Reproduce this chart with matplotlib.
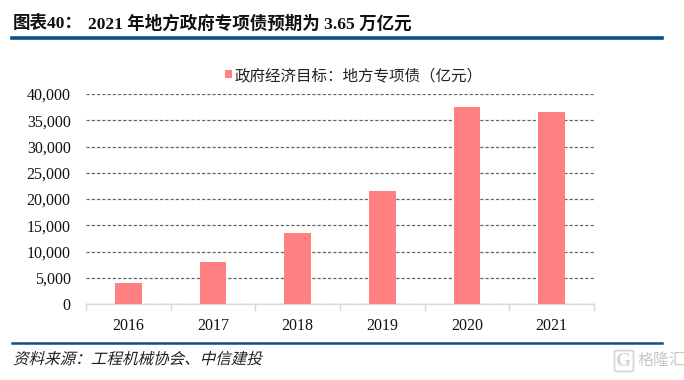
import matplotlib
matplotlib.use('Agg')
import matplotlib.pyplot as plt
import matplotlib.patheffects as pe
from matplotlib.transforms import Affine2D

plt.rcParams['font.family'] = ['Liberation Serif', 'Noto Sans CJK SC']

years = ['2016', '2017', '2018', '2019', '2020', '2021']
bond_values = [4000, 8000, 13500, 21500, 37500, 36500]
y_ticks = [0, 5000, 10000, 15000, 20000, 25000, 30000, 35000, 40000]


# the CJK fonts have no italic, so slant the source line by hand
class Slant(pe.AbstractPathEffect):
    def draw_path(self, renderer, gc, tpath, affine, rgbFace=None):
        renderer.draw_path(gc, tpath, Affine2D().skew_deg(14, 0) + affine, rgbFace)


W, H = 684, 380
fig = plt.figure(figsize=(W/100, H/100), dpi=100)

# axes placed in pixels
left, right, top, bottom = 86, 594, 94, 304
ax = fig.add_axes([left/W, 1-bottom/H, (right-left)/W, (bottom-top)/H])

ax.bar(range(6), bond_values, width=0.315, color='#ff8080', zorder=3,
       label='政府经济目标\uff1a地方专项债\uff08亿元\uff09')
ax.set_xlim(-0.5, 5.5)
ax.set_ylim(0, 40000)
ax.set_yticks(y_ticks)
ax.set_yticklabels([f'{v:,}' for v in y_ticks], fontsize=11.5, color='#111111')
ax.yaxis.grid(True, ls=(0, (2.6, 1.6)), color='#666666', lw=0.9, zorder=1)
ax.set_axisbelow(True)
ax.tick_params(axis='y', length=0, pad=11)

ax.set_xticks([i-0.5 for i in range(7)])
ax.set_xticklabels([])
ax.set_xticks(range(6), minor=True)
ax.set_xticklabels(years, minor=True, fontsize=11.5, color='#111111')
ax.tick_params(axis='x', which='major', length=5, color='#d9d9d9', width=1)
ax.tick_params(axis='x', which='minor', length=0, pad=10)

for s in ['top', 'right', 'left']:
    ax.spines[s].set_visible(False)
ax.spines['bottom'].set_color('#d9d9d9')
ax.spines['bottom'].set_linewidth(1)

ax.legend(loc='center', bbox_to_anchor=(354/W, 1-76/H), bbox_transform=fig.transFigure,
          frameon=False, fontsize=11.2, handlelength=0.42, handleheight=0.42,
          handletextpad=0.2, borderpad=0, labelcolor='#222222')

# header and footer
fig.text(13/W, 1-24/H, '图表40\uff1a', fontsize=12.6, fontweight='bold', va='center', color='#111111')
fig.text(88/W, 1-24/H, '2021 年地方政府专项债预期为 3.65 万亿元', fontsize=12.6, fontweight='bold',
         va='center', color='#111111')
fig.add_artist(plt.Line2D([12/W, 662/W], [1-38/H, 1-38/H], color='#0b5088', lw=2.6))
fig.add_artist(plt.Line2D([12/W, 662/W], [1-343/H, 1-343/H], color='#0b5088', lw=1.8))
fig.text(13/W, 1-360/H, '资料来源\uff1a工程机械协会、中信建投', fontsize=11.2,
         va='center', color='#222222', path_effects=[Slant()])
fig.text(624/W, 1-361/H, 'G', fontsize=14, fontweight='bold', va='center', ha='center', color='#d4d4d4',
         bbox=dict(boxstyle='round,pad=0.1', fc='none', ec='#d4d4d4', lw=1.2))
fig.text(661/W, 1-361/H, '格隆汇', fontsize=11.5, va='center', ha='center', color='#c8c8c8')

plt.savefig('out.png', dpi=100)
